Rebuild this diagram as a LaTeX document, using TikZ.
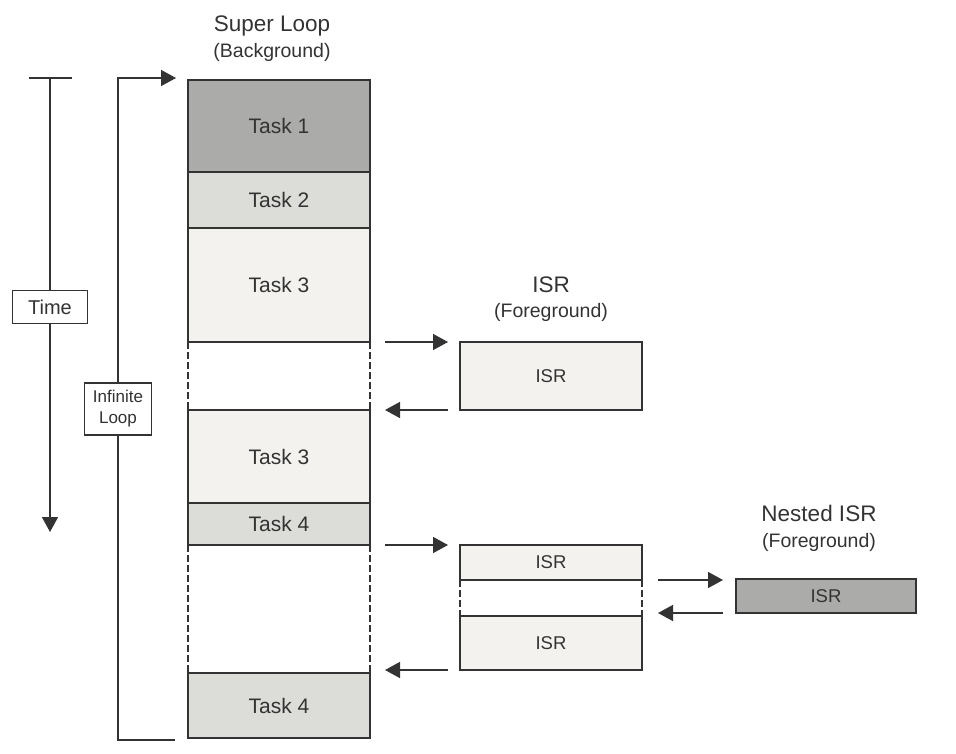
\documentclass[tikz,border=0pt]{standalone}
\usepackage{fontspec}
\setmainfont{Liberation Sans}
\usetikzlibrary{arrows.meta}
\definecolor{dkgray}{HTML}{ABACA9}
\definecolor{mdgray}{HTML}{DCDCD8}
\definecolor{ltgray}{HTML}{F3F2EF}
\definecolor{ink}{HTML}{333333}
\begin{document}
\begin{tikzpicture}[x=1pt,y=-1pt,
  line width=1.5pt, draw=ink,
  blk/.style={draw=ink, line width=1.5pt, rectangle, inner sep=0pt, outer sep=0pt, text=ink},
  task/.style={blk, minimum width=182pt, font=\fontsize{21}{24}\selectfont},
  gap/.style={rectangle, inner sep=0pt, outer sep=0pt, minimum width=182pt},
  isrbox/.style={blk, minimum width=182pt, font=\fontsize{18.5}{22}\selectfont},
  dashside/.style={draw=ink, line width=1.5pt, dash pattern=on 7pt off 3pt},
  arr/.style={draw=ink, line width=1.5pt, -{Triangle[length=15pt,width=16pt]}},
  ttl/.style={text=ink, font=\fontsize{22.5}{26}\selectfont},
  sub/.style={text=ink, font=\fontsize{19.5}{23}\selectfont},
  lbl/.style={blk, fill=white, align=center}
]
\useasboundingbox (0,0) rectangle (956,753);
% main column
\node[task, fill=dkgray, minimum height=92pt] (t1) at (279,126) {Task 1};
\node[task, fill=mdgray, minimum height=56pt, anchor=north] (t2) at (t1.south) {Task 2};
\node[task, fill=ltgray, minimum height=114pt, anchor=north] (t3a) at (t2.south) {Task 3};
\node[gap, minimum height=68pt, anchor=north] (g1) at (t3a.south) {};
\node[task, fill=ltgray, minimum height=93pt, anchor=north] (t3b) at (g1.south) {Task 3};
\node[task, fill=mdgray, minimum height=42pt, anchor=north] (t4a) at (t3b.south) {Task 4};
\node[gap, minimum height=128pt, anchor=north] (g2) at (t4a.south) {};
\node[task, fill=mdgray, minimum height=65pt, anchor=north] (t4b) at (g2.south) {Task 4};
\draw[dashside] (g1.north west) -- (g1.south west);
\draw[dashside] (g1.north east) -- (g1.south east);
\draw[dashside] (g2.north west) -- (g2.south west);
\draw[dashside] (g2.north east) -- (g2.south east);
\node[ttl] (sl) at (272,26) {Super Loop};
\node[sub] (bg) at (272,52) {(Background)};
% time axis
\coordinate (tm0) at (50,78);
\coordinate (tm1) at (50,532);
\draw (29,78) -- (72,78);
\draw[arr] (tm0) -- (tm1);
\node[lbl, font=\fontsize{20}{23}\selectfont, minimum width=75pt, minimum height=33pt] (time) at (50,307) {Time};
% infinite loop bracket
\coordinate (lp0) at (118,78);
\coordinate (lp1) at (118,740);
\coordinate (lpa) at (176,78);
\coordinate (lpb) at (175,740);
\draw[arr] (lpb) -- (lp1) -- (lp0) -- (lpa);
\node[lbl, font=\fontsize{17}{21}\selectfont, minimum width=67pt, minimum height=52pt] (inf) at (118,409) {Infinite\\Loop};
% first ISR
\node[isrbox, fill=ltgray, minimum height=68pt, anchor=north west] (isr1) at (460,342) {ISR};
\node[ttl] (isrt) at (551,285) {ISR};
\node[sub] (isrs) at (551,312) {(Foreground)};
\draw[arr] ([xshift=15pt]t3a.south east) -- ++(63,0);
\draw[arr] ([xshift=-12pt]isr1.south west) -- ++(-63,0);
% second ISR column
\node[isrbox, fill=ltgray, minimum height=35pt, anchor=north west] (isr2a) at (460,545) {ISR};
\node[gap, minimum height=36pt, anchor=north] (g3) at (isr2a.south) {};
\node[isrbox, fill=ltgray, minimum height=54pt, anchor=north] (isr2b) at (g3.south) {ISR};
\draw[dashside] (g3.north west) -- (g3.south west);
\draw[dashside] (g3.north east) -- (g3.south east);
\draw[arr] ([xshift=15pt]t4a.south east) -- ++(63,0);
\draw[arr] ([xshift=-12pt]isr2b.south west) -- ++(-63,0);
% nested ISR
\node[isrbox, fill=dkgray, minimum width=180pt, minimum height=34pt, anchor=north west] (nisr) at (736,579) {ISR};
\node[ttl] (nt) at (819,513) {Nested ISR};
\node[sub] (ns) at (819,542) {(Foreground)};
\draw[arr] ([xshift=16pt]isr2a.south east) -- ++(65,0);
\draw[arr] ([xshift=-13pt]nisr.south west) -- ++(-65,0);
\end{tikzpicture}
\end{document}
